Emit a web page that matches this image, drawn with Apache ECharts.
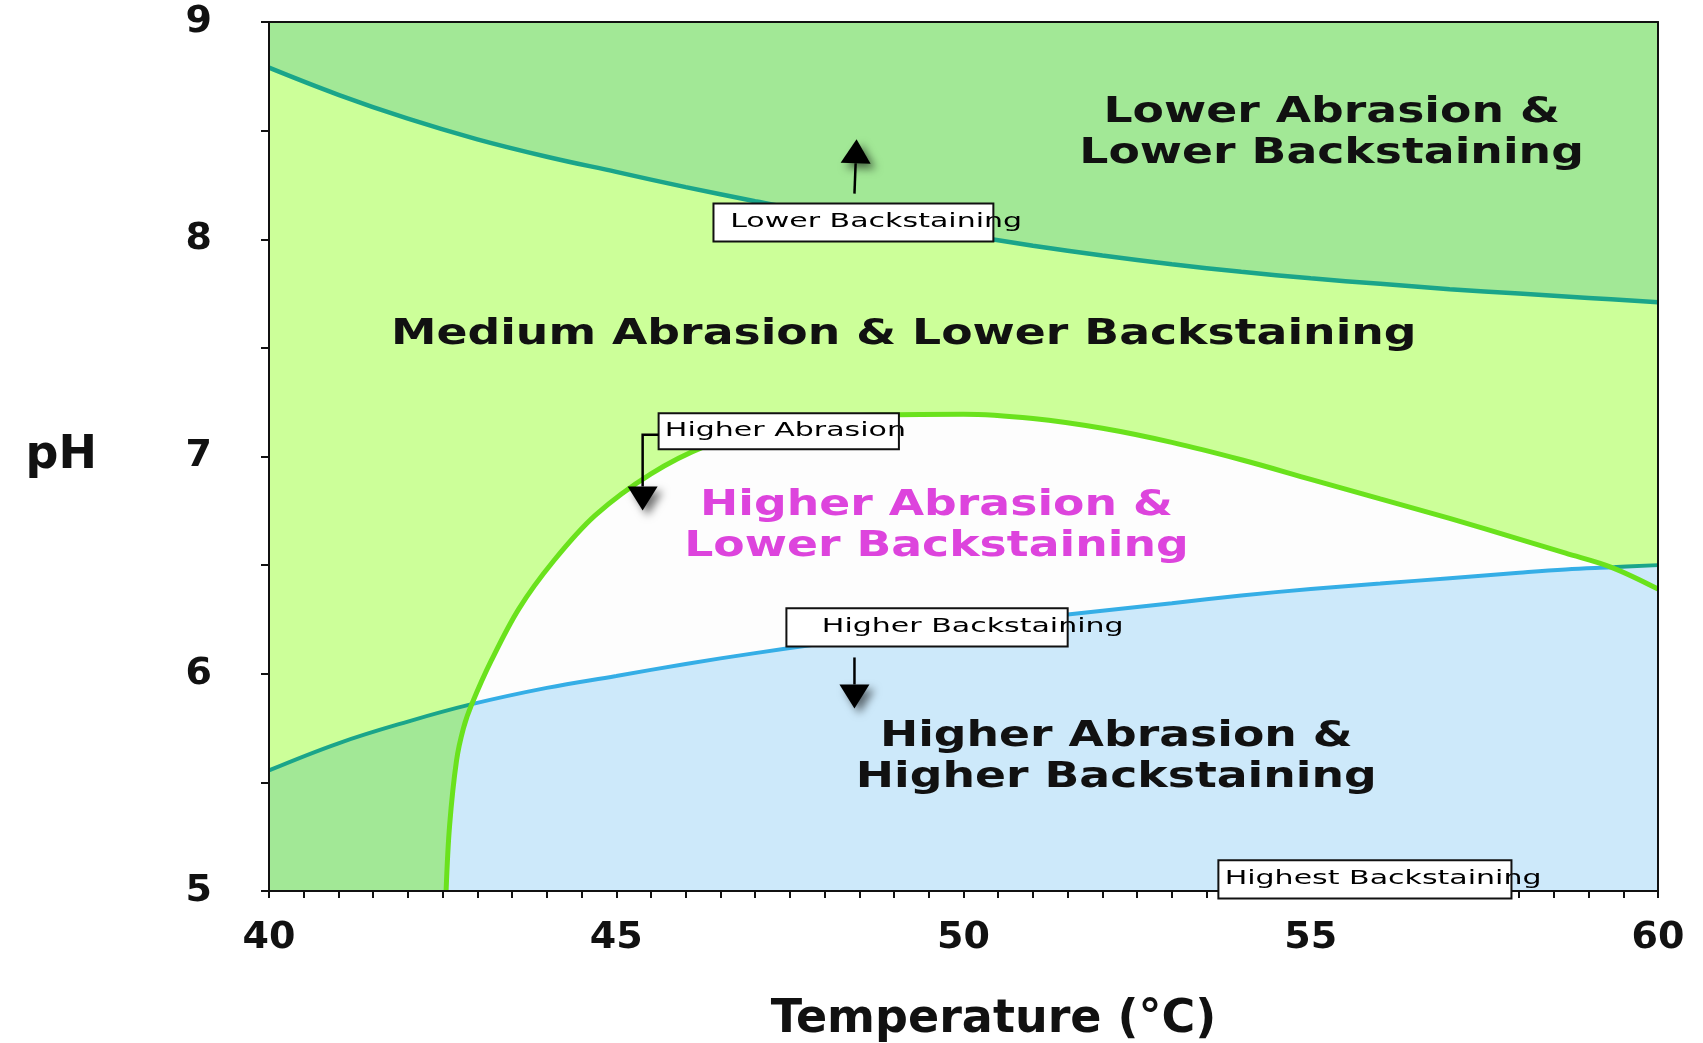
<!DOCTYPE html>
<html>
<head>
<meta charset="utf-8">
<script src="https://cdn.jsdelivr.net/npm/echarts@6/dist/echarts.min.js"></script>
<style>html,body{margin:0;padding:0;background:#fff;}#main{width:1703px;height:1043px;}</style>
</head>
<body>
<div id="main"></div>
<script>
// ---------------- data ----------------
const xRange = [40, 60];
const yRange = [5, 9];
// boundary "Lower Backstaining" (teal)
const lowerBackstainingCurve = [[40,8.79],[41,8.665],[42,8.555],[43,8.46],[44,8.38],[45,8.31],[46,8.24],[47,8.175],[48,8.115],[49,8.065],[50,8.02],[51,7.97],[52,7.925],[53,7.885],[54,7.85],[55,7.82],[56,7.795],[57,7.77],[58,7.75],[59,7.73],[60,7.71]];
// boundary "Higher Backstaining" (blue)
const higherBackstainingCurve = [[40,5.555],[41,5.68],[42,5.78],[42.92,5.86],[44,5.935],[45,5.99],[46,6.045],[47,6.095],[48,6.14],[49,6.18],[50,6.22],[51,6.255],[52,6.29],[53,6.325],[54,6.36],[55,6.39],[56,6.415],[57,6.44],[58,6.465],[58.67,6.48],[59.33,6.49],[60,6.5]];
// boundary "Higher Abrasion" (green)
const higherAbrasionCurve = [[42.55,5.0],[42.6,5.3],[42.7,5.6],[42.8,5.75],[42.92,5.86],[43.2,6.06],[43.6,6.3],[44.1,6.52],[44.7,6.73],[45.5,6.92],[46.3,7.05],[47.1,7.125],[47.9,7.17],[48.6,7.19],[50,7.195],[51,7.175],[52,7.13],[53,7.065],[54,6.985],[55,6.895],[56,6.805],[57,6.715],[58,6.62],[58.67,6.555],[59.33,6.49],[60,6.39]];
// points where the curves cross
const crossings = [[42.92,5.86],[59.33,6.49]];
const regionLabels = ['Lower Abrasion &\nLower Backstaining','Medium Abrasion & Lower Backstaining','Higher Abrasion &\nLower Backstaining','Higher Abrasion &\nHigher Backstaining'];
const annotationTexts = ['Lower Backstaining','Higher Abrasion','Higher Backstaining','Highest Backstaining'];

// ---------------- layout / style ----------------
const C = {top:'#a2e896', mid:'#ccff99', white:'#fdfdfd', blue:'#cde9fa', teal:'#1aa58a', green:'#6ae21c', blueLine:'#35aee6', magenta:'#dd44dd', dark:'#111'};
const regionLabelLayout = [
  {at:[55.30,8.49], color:C.dark},
  {at:[49.14,7.56], color:C.dark},
  {at:[49.61,6.678], color:C.magenta},
  {at:[52.20,5.615], color:C.dark}
];
const annotationLayout = [
  {box:[[46.40,8.165],[50.43,7.990]], textX:46.64, arrow:[[48.43,8.21],[48.46,8.46]]},
  {box:[[45.61,7.199],[49.07,7.033]], textX:45.70, arrow:[[45.61,7.10],[45.38,7.10],[45.38,6.752]]},
  {box:[[47.45,6.301],[51.50,6.126]], textX:47.96, arrow:[[48.43,6.075],[48.43,5.84]]},
  {box:[[53.67,5.141],[57.89,4.966]], textX:53.76, arrow:null}
];

// ---------------- region polygons built from the curves ----------------
const lb = lowerBackstainingCurve, hb = higherBackstainingCurve, ha = higherAbrasionCurve;
const c1 = crossings[0][0], c2 = crossings[1][0];
const regionPolys = [
  {pts:[...lb, [xRange[1],yRange[1]], [xRange[0],yRange[1]]], color:C.top},
  {pts:[[xRange[0],yRange[0]], ...hb.filter(p=>p[0]<=c1), ...ha.filter(p=>p[0]<=c1).reverse()], color:C.top},
  {pts:[...ha.filter(p=>p[0]<=c1), ...hb.filter(p=>p[0]>c1), [xRange[1],yRange[0]]], color:C.blue},
  {pts:[...ha.filter(p=>p[0]>=c1&&p[0]<=c2), ...hb.filter(p=>p[0]>=c1&&p[0]<=c2).reverse()], color:C.white}
];

const chart = echarts.init(document.getElementById('main'));
const FONT = '"DejaVu Sans", sans-serif';
const axisCommon = {
  axisLine:{show:true, lineStyle:{color:'#111', width:2}},
  splitLine:{show:false},
  z:10
};

function arrowChildren(px){
  const tip = px[px.length-1], prev = px[px.length-2];
  const dx = tip[0]-prev[0], dy = tip[1]-prev[1];
  const len = Math.hypot(dx,dy) || 1;
  const ux = dx/len, uy = dy/len;
  const h = 24, w = 30;
  const bx = tip[0]-ux*h, by = tip[1]-uy*h;
  const line = px.slice(0,-1).concat([[bx,by]]);
  return [
    {type:'polyline', shape:{points:line}, style:{stroke:'#000', lineWidth:2.5, fill:null}},
    {type:'polygon', shape:{points:[tip,[bx-uy*w/2, by+ux*w/2],[bx+uy*w/2, by-ux*w/2]]},
     style:{fill:'#000', shadowBlur:8, shadowColor:'rgba(0,0,0,0.55)', shadowOffsetX:5, shadowOffsetY:5}}
  ];
}

const option = {
  backgroundColor:'#fff',
  animation:false,
  grid:{left:269, right:45, top:22, bottom:152, containLabel:false, outerBoundsMode:'none',
        show:true, backgroundColor:C.mid, borderColor:'#222', borderWidth:0},
  xAxis:[
    Object.assign({type:'value', min:xRange[0], max:xRange[1], interval:5, position:'bottom',
      axisTick:{show:true, length:7, lineStyle:{color:'#111', width:2}},
      minorTick:{show:true, splitNumber:10, length:7, lineStyle:{color:'#111', width:2}},
      axisLabel:{fontFamily:FONT, fontWeight:'bold', fontSize:38, color:'#111', margin:28},
      name:'Temperature (°C)', nameLocation:'middle', nameGap:106,
      nameTextStyle:{fontFamily:FONT, fontWeight:'bold', fontSize:46, color:'#111', padding:[0,0,0,60]}
    }, axisCommon),
    Object.assign({type:'value', min:xRange[0], max:xRange[1], position:'top', axisTick:{show:false}, axisLabel:{show:false}}, axisCommon)
  ],
  yAxis:[
    Object.assign({type:'value', min:yRange[0], max:yRange[1], interval:1, position:'left',
      axisTick:{show:true, length:8, lineStyle:{color:'#111', width:2}},
      minorTick:{show:true, splitNumber:2, length:8, lineStyle:{color:'#111', width:2}},
      axisLabel:{fontFamily:FONT, fontWeight:'bold', fontSize:38, color:'#111', margin:57},
      name:'pH', nameLocation:'middle', nameRotate:0, nameGap:172,
      nameTextStyle:{fontFamily:FONT, fontWeight:'bold', fontSize:46, color:'#111'}
    }, axisCommon),
    Object.assign({type:'value', min:yRange[0], max:yRange[1], position:'right', axisTick:{show:false}, axisLabel:{show:false}}, axisCommon)
  ],
  series:[
    {type:'custom', name:'regions', silent:true, z:1, clip:true,
     data: regionPolys.map((r,i)=>i),
     renderItem:(params, api)=>{
       const r = regionPolys[params.dataIndex];
       return {type:'polygon', shape:{points:r.pts.map(p=>api.coord(p))}, style:{fill:r.color, stroke:r.color, lineWidth:1}};
     }},
    {type:'line', name:'Lower Backstaining', data:lowerBackstainingCurve, showSymbol:false, smooth:0.4, z:3,
     lineStyle:{color:C.teal, width:4.5}},
    {type:'line', name:'Higher Backstaining', data:higherBackstainingCurve, showSymbol:false, smooth:0.4, z:3,
     lineStyle:{width:4, color:new echarts.graphic.LinearGradient(0,0,1,0,[
       {offset:0, color:C.teal},
       {offset:(c1-xRange[0])/(xRange[1]-xRange[0]), color:C.teal},
       {offset:(c1-xRange[0])/(xRange[1]-xRange[0])+0.001, color:C.blueLine},
       {offset:(c2-xRange[0])/(xRange[1]-xRange[0]), color:C.blueLine},
       {offset:(c2-xRange[0])/(xRange[1]-xRange[0])+0.001, color:C.teal},
       {offset:1, color:C.teal}])}},
    {type:'line', name:'Higher Abrasion', data:higherAbrasionCurve, showSymbol:false, smooth:0.35, z:4,
     lineStyle:{color:C.green, width:5}},
    {type:'custom', name:'regionLabels', silent:true, z:6,
     data: regionLabels.map((t,i)=>i),
     renderItem:(params, api)=>{
       const L = regionLabelLayout[params.dataIndex];
       const p = api.coord(L.at);
       return {type:'text', x:p[0], y:p[1], scaleX:1.27,
         style:{text:regionLabels[params.dataIndex], font:'bold 36px '+FONT, fill:L.color,
           textAlign:'center', textVerticalAlign:'middle', align:'center', verticalAlign:'middle', lineHeight:41}};
     }},
    {type:'custom', name:'annotations', silent:true, z:12, clip:false,
     data: annotationTexts.map((t,i)=>i),
     renderItem:(params, api)=>{
       const i = params.dataIndex, L = annotationLayout[i];
       const p0 = api.coord(L.box[0]), p1 = api.coord(L.box[1]);
       const rect = {x:p0[0], y:p0[1], width:p1[0]-p0[0], height:p1[1]-p0[1]};
       const tp = api.coord([L.textX, (L.box[0][1]+L.box[1][1])/2]);
       let children = [
         {type:'rect', shape:rect, style:{fill:'#fff'}},
         {type:'text', x:tp[0], y:tp[1], scaleX:1.58,
          style:{text:annotationTexts[i], font:'19px '+FONT, fill:'#000', textAlign:'left', textVerticalAlign:'middle', align:'left', verticalAlign:'middle'}},
         {type:'rect', shape:rect, style:{fill:null, stroke:'#111', lineWidth:2}}
       ];
       if (L.arrow) children = children.concat(arrowChildren(L.arrow.map(p=>api.coord(p))));
       return {type:'group', children};
     }}
  ]
};
chart.setOption(option);
</script>
</body>
</html>
